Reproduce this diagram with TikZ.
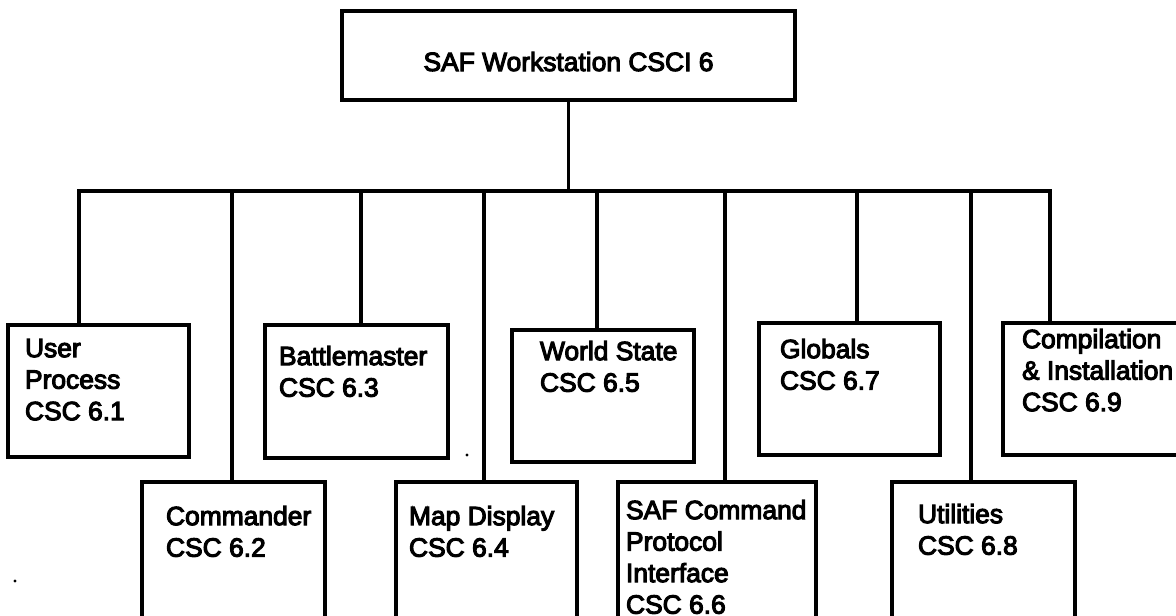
\documentclass[tikz,border=0pt]{standalone}
\usepackage{fontspec}
\newfontfamily\labfont{Liberation Sans}[FakeBold=4]
\tikzset{
  cbox/.style={draw, line width=3.4pt, rectangle, anchor=north west, inner sep=0pt, outer sep=0pt},
  ctext/.style={anchor=north west, inner sep=0pt, outer sep=0pt, align=left,
    font=\labfont\fontsize{26.4}{31.5}\selectfont},
  link/.style={line width=3.2pt, line cap=rect},
}
\begin{document}
\begin{tikzpicture}[x=1pt,y=-1pt]
\useasboundingbox (0,0) rectangle (1176,616);
\clip (0,0) rectangle (1176,616);
% top box
\node[cbox, minimum width=453pt, minimum height=89pt, font=\labfont\fontsize{26.4}{31.5}\selectfont,
  text height=31pt, text depth=0pt] (top) at (342,11) {SAF Workstation CSCI 6};
% boxes
\node[cbox, minimum width=181pt, minimum height=132pt] (user) at (8,325) {};
\node[cbox, minimum width=183pt, minimum height=150pt] (cmdr) at (142,482) {};
\node[cbox, minimum width=183pt, minimum height=133pt] (battle) at (265,325) {};
\node[cbox, minimum width=181pt, minimum height=150pt] (map) at (396,482) {};
\node[cbox, minimum width=182pt, minimum height=132pt] (world) at (512,330) {};
\node[cbox, minimum width=198pt, minimum height=150pt] (saf) at (618,482) {};
\node[cbox, minimum width=181pt, minimum height=132pt] (glob) at (759,323) {};
\node[cbox, minimum width=183pt, minimum height=150pt] (util) at (892,482) {};
\node[cbox, minimum width=200pt, minimum height=132pt] (comp) at (1003,323) {};
% texts
\node[ctext] (usert) at (25,339) {User\\Process\\CSC 6.1};
\node[ctext] (cmdrt) at (166,506) {Commander\\CSC 6.2};
\node[ctext] (battlet) at (279,346) {Battlemaster\\CSC 6.3};
\node[ctext] (mapt) at (409,506) {Map Display\\CSC 6.4};
\node[ctext] (worldt) at (540,341) {World State\\CSC 6.5};
\node[ctext] (saft) at (626,500) {SAF Command\\Protocol\\Interface\\CSC 6.6};
\node[ctext] (globt) at (780,339) {Globals\\CSC 6.7};
\node[ctext] (utilt) at (918,504) {Utilities\\CSC 6.8};
\node[ctext] (compt) at (1022,329) {Compilation\\\& Installation\\CSC 6.9};
% bus points
\coordinate (b1) at (79,191);
\coordinate (b2) at (232,191);
\coordinate (b3) at (361,191);
\coordinate (b4) at (484,191);
\coordinate (b5) at (597,191);
\coordinate (b6) at (725,191);
\coordinate (b7) at (857,191);
\coordinate (b8) at (971,191);
\coordinate (b9) at (1050,191);
% connectors
\draw[link] (top.south) -- (top.south |- b1);
\draw[link] (b1) -- (b9);
\draw[link] (b1) -- (b1 |- user.north);
\draw[link] (b2) -- (b2 |- cmdr.north);
\draw[link] (b3) -- (b3 |- battle.north);
\draw[link] (b4) -- (b4 |- map.north);
\draw[link] (b5) -- (b5 |- world.north);
\draw[link] (b6) -- (b6 |- saf.north);
\draw[link] (b7) -- (b7 |- glob.north);
\draw[link] (b8) -- (b8 |- util.north);
\draw[link] (b9) -- (b9 |- comp.north);
% specks
\fill (467,455) circle (1.6pt);
\fill (15,581) circle (1.6pt);
\end{tikzpicture}
\end{document}
